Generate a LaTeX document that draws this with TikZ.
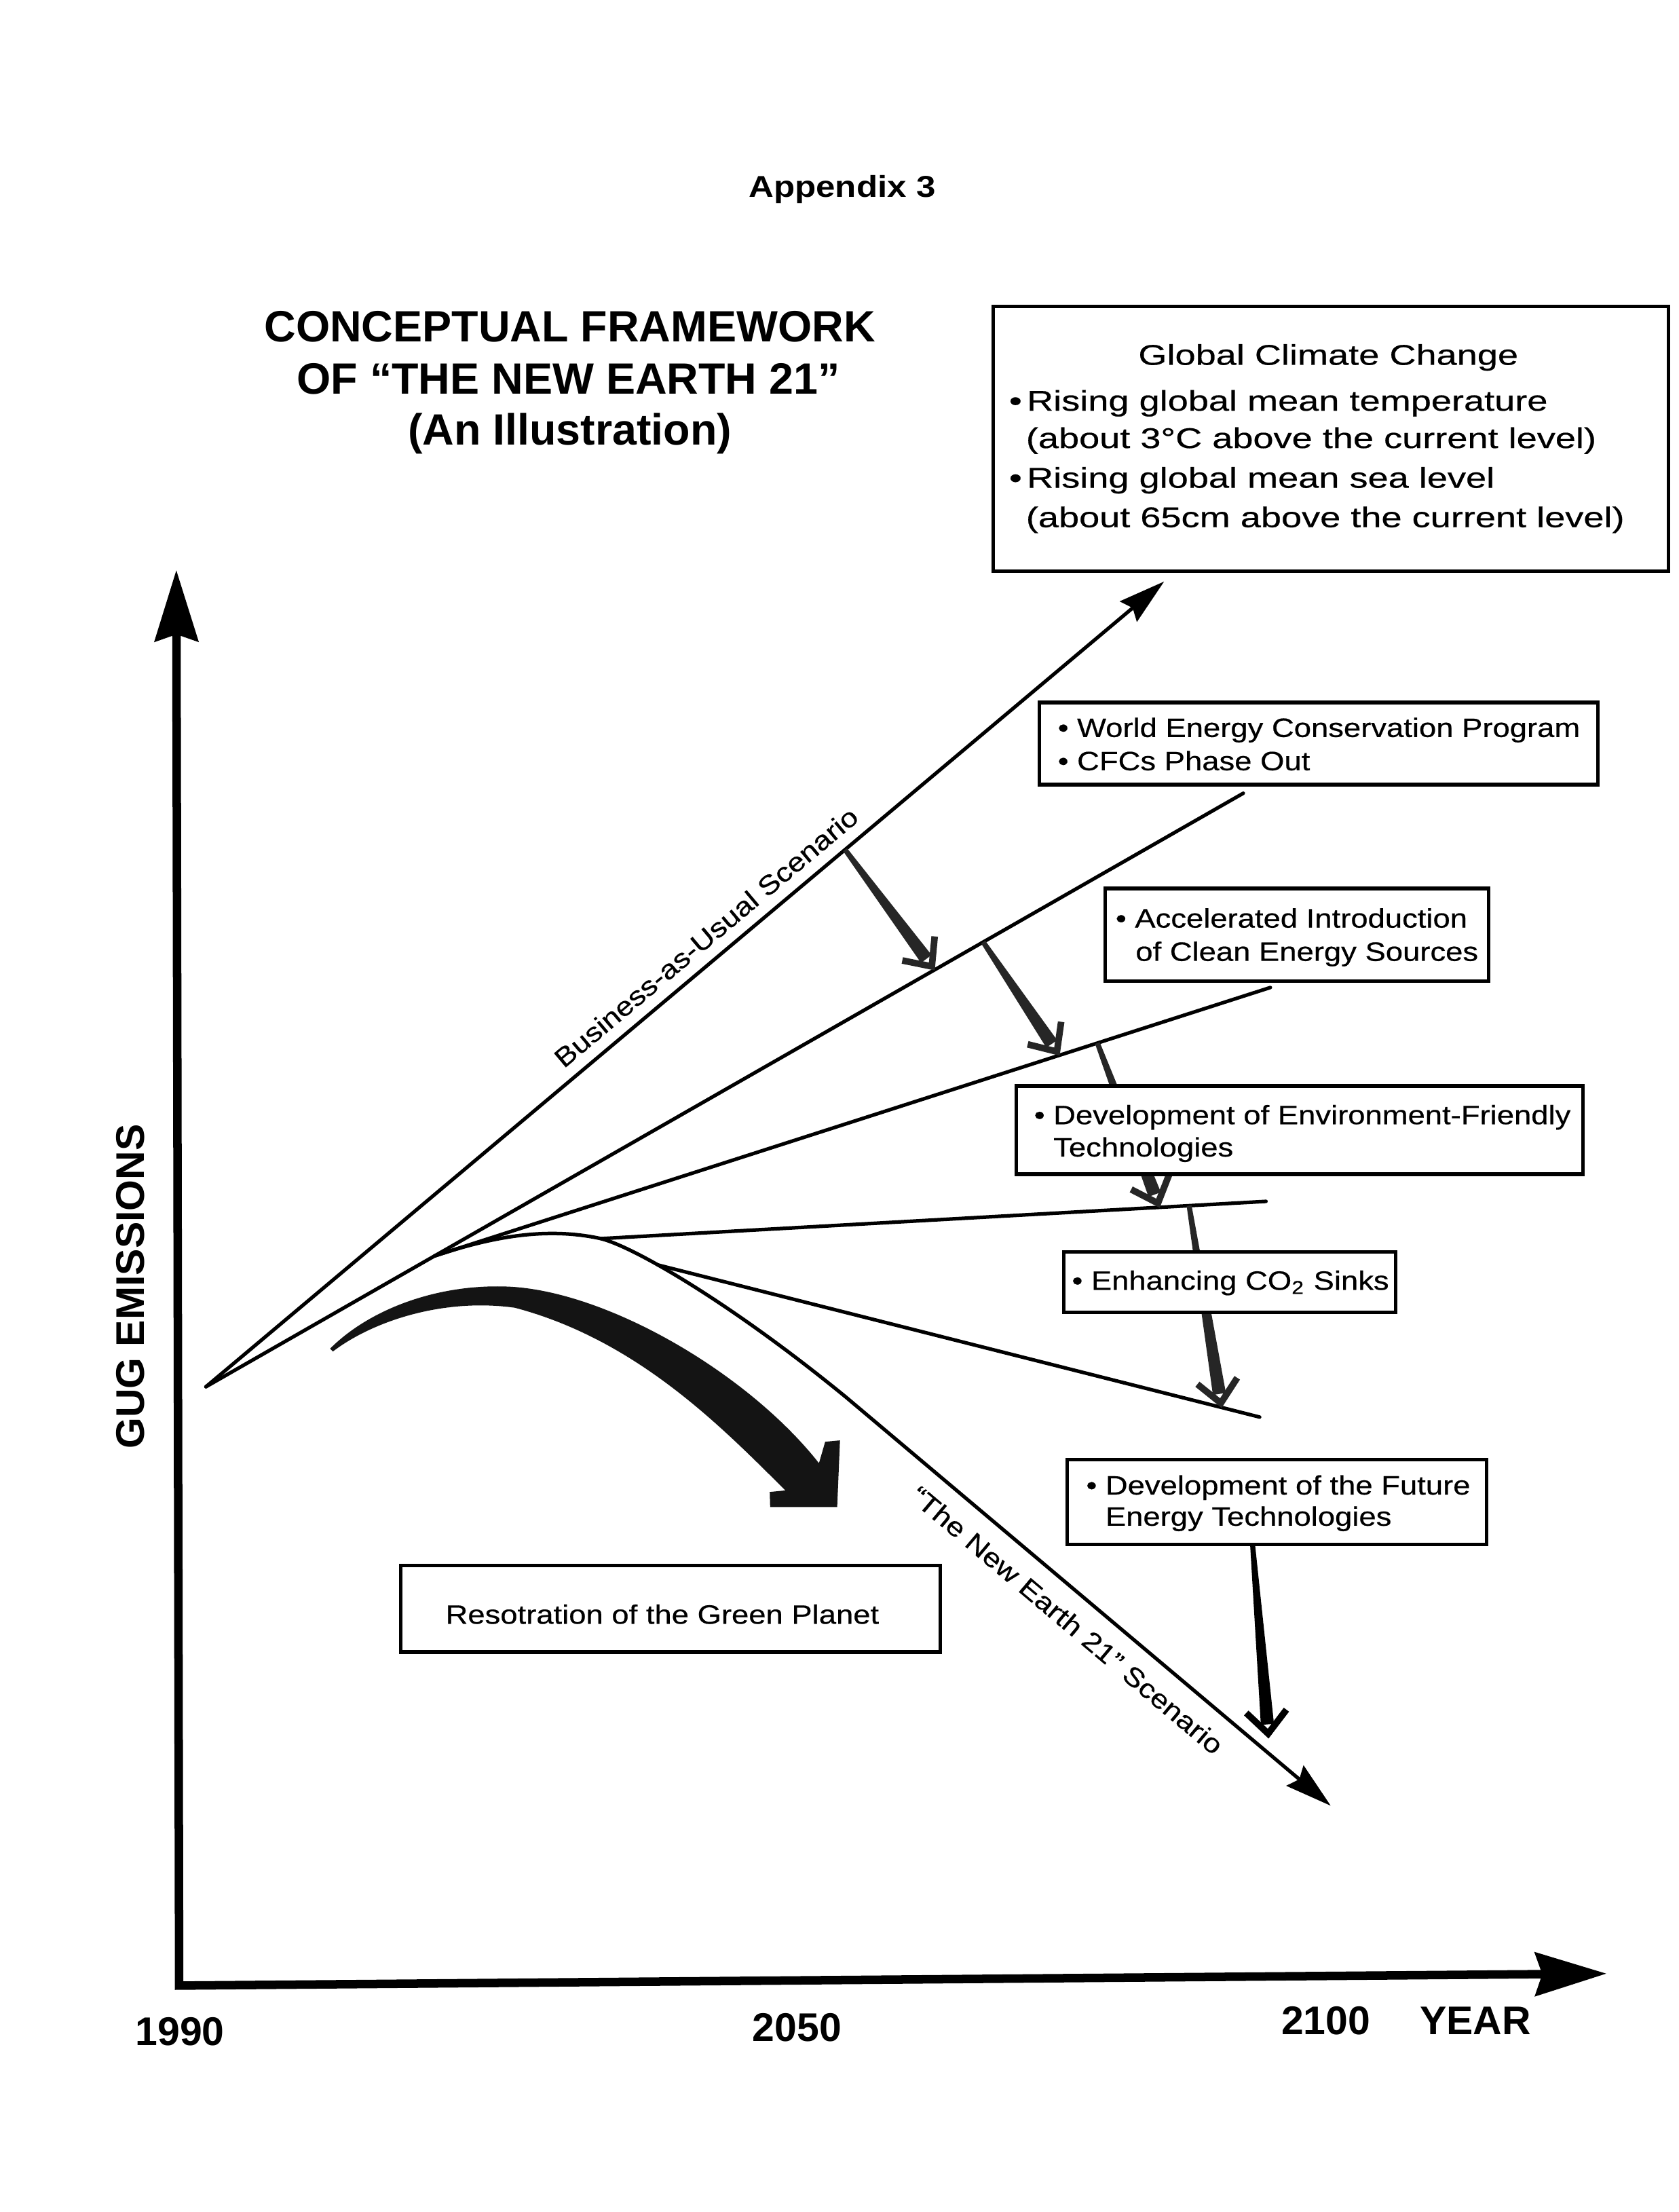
\documentclass[tikz,border=0pt]{standalone}
\usepackage{fontspec}
\setmainfont{Liberation Sans}
\newfontfamily\gccfam[FakeStretch=1.29,FakeBold=0.5]{Liberation Sans}
\newfontfamily\boxfam[FakeStretch=1.16,FakeBold=0.5]{Liberation Sans}
\newfontfamily\appfam[FakeStretch=1.15]{Liberation Sans}
\usetikzlibrary{arrows.meta,calc}
\newcommand\gccfont{\gccfam\fontsize{10.4pt}{12.5pt}\selectfont}
\newcommand\boxfont{\boxfam\fontsize{9.7pt}{11.6pt}\selectfont}
\newcommand\titlefont{\bfseries\fontsize{16pt}{19pt}\selectfont}
\newcommand\axisfont{\bfseries\fontsize{14.6pt}{17pt}\selectfont}
\newcommand\appfont{\appfam\bfseries\fontsize{11pt}{13pt}\selectfont}
% tapered step arrow: #1 colour, #2 start, #3 tip
\newcommand\wedgearrow[3]{%
  \coordinate (wv) at ($(#3)!1.6pt!(#2)$);
  \coordinate (we) at ($(#3)!5pt!(#2)$);
  \fill[#1] ($(#2)!0.9pt!90:(#3)$) -- ($(we)!2.4pt!-90:(#2)$) -- ($(we)!2.4pt!90:(#2)$) -- ($(#2)!0.9pt!-90:(#3)$) -- cycle;
  \draw[#1, line width=2.4pt, line join=miter, miter limit=10, line cap=butt] ($(wv)!11pt!42:(#2)$) -- (wv) -- ($(wv)!11pt!-42:(#2)$);
}
\begin{document}
\begin{tikzpicture}[x=0.515pt,y=-0.515pt,
  curveline/.style={line width=1.3pt,line cap=round,line join=round},
  boxframe/.style={draw,line width=1.3pt,fill=white,line join=miter},
  lbl/.style={inner sep=0pt,anchor=base west},
  ctr/.style={inner sep=0pt,anchor=base},
  scenhead/.style={-{Stealth[length=17pt,width=9.6pt,inset=2pt]}},
  axisline/.style={line width=3.1pt,line join=miter,
     {Stealth[length=26pt,width=15.7pt,inset=2.5pt]}-{Stealth[length=26pt,width=15.7pt,inset=2.5pt]}}]
\useasboundingbox (0,0) rectangle (1190,1568);
\fill[white] (0,0) rectangle (1190,1568);

% heading
\node[ctr,font=\appfont] (appendix) at (597,140) {Appendix 3};
\node[ctr,font=\titlefont] (title1) at (404,242.2) {CONCEPTUAL FRAMEWORK};
\node[ctr,font=\titlefont] (title2) at (403,279.1) {OF “THE NEW EARTH 21”};
\node[ctr,font=\titlefont] (title3) at (404,315.2) {(An Illustration)};

% axes
\coordinate (corner) at (127,1407.5);
\coordinate (ytip) at (125,404);
\coordinate (xtip) at (1139,1399);
\draw[axisline] (ytip) -- (corner) -- (xtip);
\node[font=\axisfont,rotate=90] (gug) at (92.5,912) {GUG EMISSIONS};
\node[ctr,font=\axisfont] (y1990) at (127.6,1450) {1990};
\node[ctr,font=\axisfont] (y2050) at (565,1447) {2050};
\node[ctr,font=\axisfont] (y2100) at (940,1442) {2100};
\node[ctr,font=\axisfont] (year) at (1046,1442) {YEAR};

% scenario lines
\coordinate (O) at (146,983);
\coordinate (BAUtip) at (825.3,412.2);
\coordinate (L2end) at (881.4,562.3);
\coordinate (L3end) at (900.6,700);
\coordinate (L4end) at (897.5,851.6);
\coordinate (L5end) at (893,1004.5);
\coordinate (J2) at (426,878);
\coordinate (P) at (600,990.6);
\coordinate (NEtip) at (943.4,1280);

\draw[curveline,scenhead] (O) -- (BAUtip) coordinate[pos=.667] (a0)
  node[pos=.537,sloped,above=4pt,inner sep=0pt,font=\boxfont] (baulabel) {Business-as-Usual Scenario};
\draw[curveline] (O) -- (L2end) coordinate[pos=.2203] (J1) coordinate[pos=.7023] (a1) coordinate[pos=.7493] (b0);
\draw[curveline] (J1) -- (L3end) coordinate[pos=.7476] (b1) coordinate[pos=.7931] (c0);
\draw[curveline,scenhead] (J1) .. controls (345,878) and (385,869) .. (J2)
  .. controls (450,884) and (520,925) .. (P) coordinate[pos=.35] (J3)
  -- (NEtip) node[pos=.493,sloped,below=6pt,inner sep=0pt,font=\boxfont] (nelabel) {“The New Earth 21” Scenario};
\draw[curveline] (J2) -- (L4end) coordinate[pos=.8399] (c1) coordinate[pos=.8844] (d0);
\draw[curveline] (J3) -- (L5end) coordinate[pos=.9367] (d1);

% step arrows
\wedgearrow{black!85}{a0}{a1}
\wedgearrow{black!85}{b0}{b1}
\wedgearrow{black!85}{c0}{c1}
\wedgearrow{black!85}{d0}{d1}
\coordinate (e0) at (888,1094.9);
\coordinate (e1) at (899.3,1232);
\wedgearrow{black}{e0}{e1}

% green planet arrow
\fill[black!92] (234,956) .. controls (262,928) and (310,910) .. (360,912)
  .. controls (430,915) and (530,973) .. (580.6,1037.2) -- (585,1022) -- (595.5,1021)
  -- (593.5,1068.3) -- (546,1068.3) -- (545.7,1057.6) -- (556.8,1056.5)
  .. controls (512,1012) and (452,950) .. (365,927)
  .. controls (315,920) and (265,936) .. (236,958) -- cycle;

% Global climate change box
\draw[boxframe] (704,217.4) rectangle (1183,405);
\node[ctr,font=\gccfont] (gcc0) at (941.7,258.6) {Global Climate Change};
\node[lbl,font=\gccfont] (gcc1) at (715,291.1) {•\hspace{1.8pt}Rising global mean temperature};
\node[lbl,font=\gccfont] (gcc2) at (727,317.6) {(about 3°C above the current level)};
\node[lbl,font=\gccfont] (gcc3) at (715,345.7) {•\hspace{1.8pt}Rising global mean sea level};
\node[lbl,font=\gccfont] (gcc4) at (727,373.7) {(about 65cm above the current level)};

% measure boxes
\draw[boxframe] (736.8,498) rectangle (1132.7,556.2);
\node[lbl,font=\boxfont] (boxA1) at (749.5,522.4) {• World Energy Conservation Program};
\node[lbl,font=\boxfont] (boxA2) at (749.5,546) {• CFCs Phase Out};

\draw[boxframe] (783.6,629.8) rectangle (1055.2,695.6);
\node[lbl,font=\boxfont] (boxB1) at (790.5,657.5) {• Accelerated Introduction};
\node[lbl,font=\boxfont] (boxB2) at (804.7,681.1) {of Clean Energy Sources};

\draw[boxframe] (720.3,769.8) rectangle (1122.3,832.3);
\node[lbl,font=\boxfont] (boxC1) at (732.7,796.9) {• Development of Environment-Friendly};
\node[lbl,font=\boxfont] (boxC2) at (746.4,819.8) {Technologies};

\draw[boxframe] (754,887.3) rectangle (989.6,930.2);
\node[lbl,font=\boxfont] (boxD1) at (759.5,914.3) {• Enhancing CO\textsubscript{2} Sinks};

\draw[boxframe] (756.5,1034.5) rectangle (1054,1094.9);
\node[lbl,font=\boxfont] (boxE1) at (769.6,1059.4) {• Development of the Future};
\node[lbl,font=\boxfont] (boxE2) at (783.3,1081.5) {Energy Technologies};

\draw[boxframe] (284.2,1109.6) rectangle (666.5,1171);
\node[lbl,font=\boxfont] (boxF1) at (315.5,1151) {Resotration of the Green Planet};
\end{tikzpicture}
\end{document}
